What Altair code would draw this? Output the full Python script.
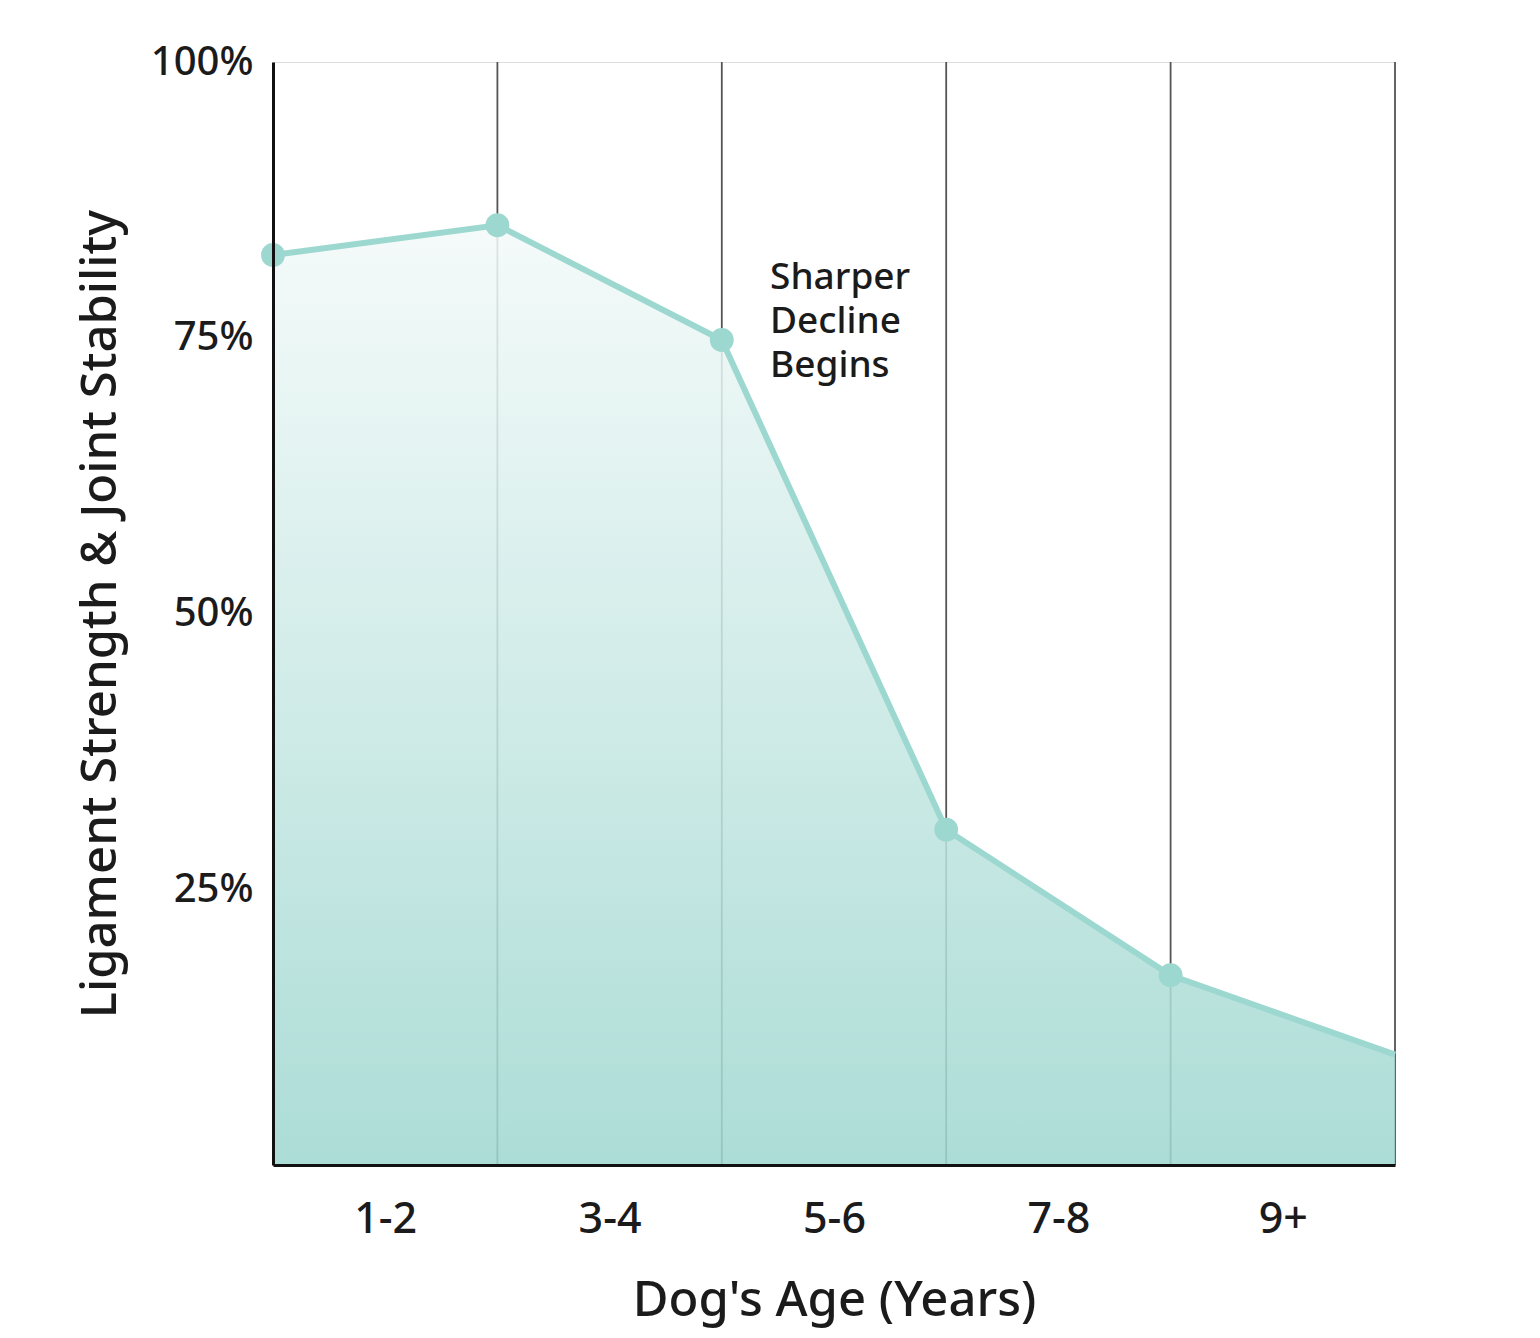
import altair as alt
import pandas as pd

# ---- data ----
age_groups = ["1-2", "3-4", "5-6", "7-8", "9+"]
boundary_index = [0, 1, 2, 3, 4, 5]
strength_pct = [82.5, 85.2, 74.8, 30.4, 17.2, 10.0]
y_ticks = [25, 50, 75, 100]
annotation_lines = ["Sharper", "Decline", "Begins"]
annotation_at = {"x": 2.215, "y": 80.4}

FONT = "Noto Sans"
TEXT = "#1b1b1b"
LINE = "#9dd8d0"

df = pd.DataFrame({"x": boundary_index, "y": strength_pct})
df["marker"] = df["x"] < len(age_groups)
grid_df = pd.DataFrame({"x": boundary_index[1:]})
ann_df = pd.DataFrame([{"x": annotation_at["x"], "y": annotation_at["y"], "t": annotation_lines}])

label_expr = "[" + ",".join(f"'{a}'" for a in age_groups) + "][floor(datum.value)]"

x_scale = alt.Scale(domain=[0, len(age_groups)], nice=False, zero=False)
y_scale = alt.Scale(domain=[0, 100], nice=False)

x_axis = alt.Axis(
    values=[i + 0.5 for i in range(len(age_groups))],
    labelExpr=label_expr,
    title="Dog's Age (Years)",
    grid=False, ticks=False, tickSize=0,
    domainColor="#111111", domainWidth=3,
    labelFont=FONT, labelFontSize=43, labelColor=TEXT, labelFontWeight=500,
    labelBaseline="alphabetic", labelPadding=67,
    titleFont=FONT, titleFontSize=49, titleColor=TEXT, titleFontWeight=500,
    titleBaseline="alphabetic", titleY=150,
    zindex=2,
)
y_axis = alt.Axis(
    values=y_ticks,
    labelExpr="datum.value + '%'",
    title="Ligament Strength & Joint Stability",
    grid=False, ticks=False, tickSize=0,
    domainColor="#111111", domainWidth=3,
    labelFont=FONT, labelFontSize=40, labelColor=TEXT, labelFontWeight=500,
    labelPadding=20, labelBaseline="middle",
    titleFont=FONT, titleFontSize=49, titleColor=TEXT, titleFontWeight=500,
    titleX=-148, titleBaseline="bottom",
    zindex=2,
)

base = alt.Chart(df)

grid = alt.Chart(grid_df).mark_rule(color="#555555", strokeWidth=1.8).encode(
    x=alt.X("x:Q", scale=x_scale, axis=x_axis),
    y=alt.value(0),
    y2=alt.value(1103),
)

area = base.mark_area(
    opacity=0.86,
    color=alt.Gradient(
        gradient="linear",
        stops=[
            alt.GradientStop(color="#f3faf9", offset=0),
            alt.GradientStop(color="#9fd7d0", offset=1),
        ],
        x1=1, x2=1, y1=0, y2=1,
    ),
).encode(
    x=alt.X("x:Q", scale=x_scale, axis=x_axis),
    y=alt.Y("y:Q", scale=y_scale, axis=y_axis),
)

line = base.mark_line(color=LINE, strokeWidth=6).encode(
    x=alt.X("x:Q", scale=x_scale),
    y=alt.Y("y:Q", scale=y_scale),
)

points = base.transform_filter("datum.marker").mark_circle(
    color=LINE, opacity=1, size=570
).encode(
    x=alt.X("x:Q", scale=x_scale),
    y=alt.Y("y:Q", scale=y_scale),
)

ann = alt.Chart(ann_df).mark_text(
    align="left", baseline="middle", font=FONT, fontSize=37, fontWeight=500,
    color=TEXT, lineHeight=44
).encode(
    x=alt.X("x:Q", scale=x_scale),
    y=alt.Y("y:Q", scale=y_scale),
    text="t",
)

chart = alt.layer(grid, area, line, points, ann).properties(
    width=1122,
    height=1103,
    autosize=alt.AutoSizeParams(type="none"),
    padding={"left": 265, "top": 54, "right": 130, "bottom": 166},
).configure_view(stroke=None).configure(background="white")

chart.save("out.html", embed_options={"renderer": "svg", "actions": False})
